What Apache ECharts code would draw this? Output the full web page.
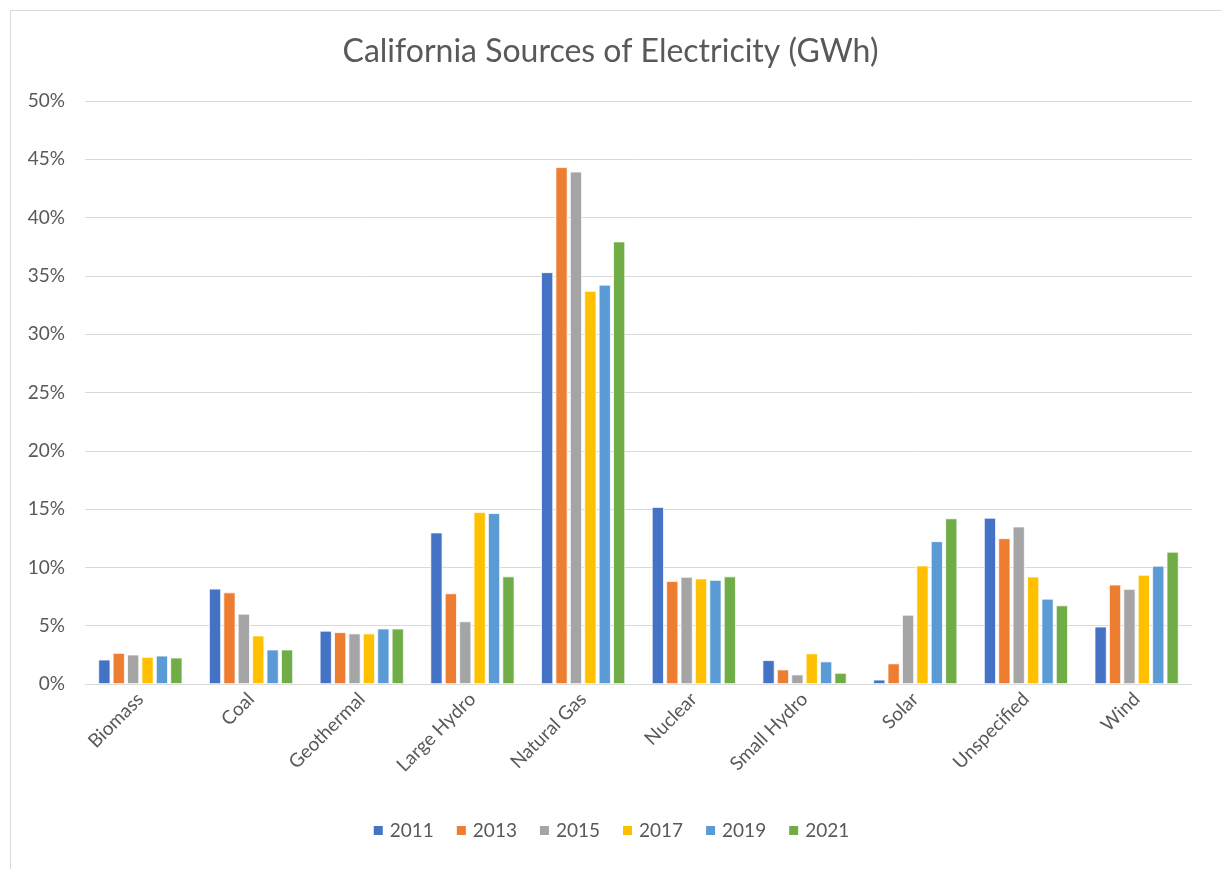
<!DOCTYPE html>
<html>
<head>
<meta charset="utf-8">
<script src="https://cdn.jsdelivr.net/npm/echarts@6/dist/echarts.min.js"></script>
<style>
html,body{margin:0;padding:0;background:#fff;}
#chart{width:1221px;height:869px;}
</style>
</head>
<body>
<div id="chart"></div>
<script>
const categories = ['Biomass','Coal','Geothermal','Large Hydro','Natural Gas','Nuclear','Small Hydro','Solar','Unspecified','Wind'];
const years = ['2011','2013','2015','2017','2019','2021'];
const y2011 = [2.09, 8.17, 4.56, 12.99, 35.31, 15.18, 2.04, 0.37, 14.25, 4.92];
const y2013 = [2.66, 7.85, 4.44, 7.77, 44.32, 8.83, 1.24, 1.76, 12.50, 8.52];
const y2015 = [2.52, 6.02, 4.33, 5.37, 43.94, 9.19, 0.81, 5.93, 13.50, 8.15];
const y2017 = [2.32, 4.15, 4.33, 14.73, 33.71, 9.04, 2.62, 10.16, 9.21, 9.36];
const y2019 = [2.43, 2.95, 4.75, 14.65, 34.24, 8.92, 1.93, 12.24, 7.31, 10.14];
const y2021 = [2.26, 2.95, 4.75, 9.22, 37.95, 9.22, 0.95, 14.20, 6.74, 11.34];
const yTicks = [0, 5, 10, 15, 20, 25, 30, 35, 40, 45, 50];
const colors = ['#4472C4','#ED7D31','#A5A5A5','#FFC000','#5B9BD5','#70AD47'];
const seriesData = [y2011, y2013, y2015, y2017, y2019, y2021];

const FONT = 'Lato';
const chart = echarts.init(document.getElementById('chart'));
chart.setOption({
  animation: false,
  backgroundColor: '#fff',
  textStyle: { fontFamily: FONT },
  graphic: [{
    type: 'rect', left: 8, top: 8,
    shape: { width: 1212, height: 875 },
    style: { fill: 'none', stroke: '#d9d9d9', lineWidth: 1 },
    silent: true
  }],
  title: {
    text: 'California Sources of Electricity (GWh)',
    left: 'center', top: 31,
    textStyle: { fontFamily: FONT, fontSize: 32, fontWeight: 'normal', color: '#595959' }
  },
  legend: {
    data: years,
    bottom: 24,
    left: 'center',
    icon: 'rect',
    itemWidth: 11, itemHeight: 11, itemGap: 21,
    textStyle: { fontFamily: FONT, fontSize: 19, color: '#595959', padding: [0, 0, 0, 1] }
  },
  grid: { left: 85, right: 29, top: 101, bottom: 185, containLabel: false },
  xAxis: {
    type: 'category',
    data: categories,
    axisLine: { lineStyle: { color: '#d9d9d9', width: 1 } },
    axisTick: { show: false },
    axisLabel: { rotate: 45, fontFamily: FONT, fontSize: 19, color: '#595959', margin: 12, interval: 0 }
  },
  yAxis: {
    type: 'value',
    min: yTicks[0], max: yTicks[yTicks.length-1], interval: 5,
    axisLine: { show: false },
    axisTick: { show: false },
    splitLine: { lineStyle: { color: '#d9d9d9', width: 1 } },
    axisLabel: { formatter: v => v + '%', fontFamily: FONT, fontSize: 19, color: '#595959', margin: 20 }
  },
  series: years.map((y, i) => ({
    name: y,
    type: 'bar',
    data: seriesData[i],
    barWidth: 12,
    barGap: '20%',
    itemStyle: { color: colors[i], borderColor: '#ffffff', borderWidth: 0.75 }
  }))
});
</script>
</body>
</html>
